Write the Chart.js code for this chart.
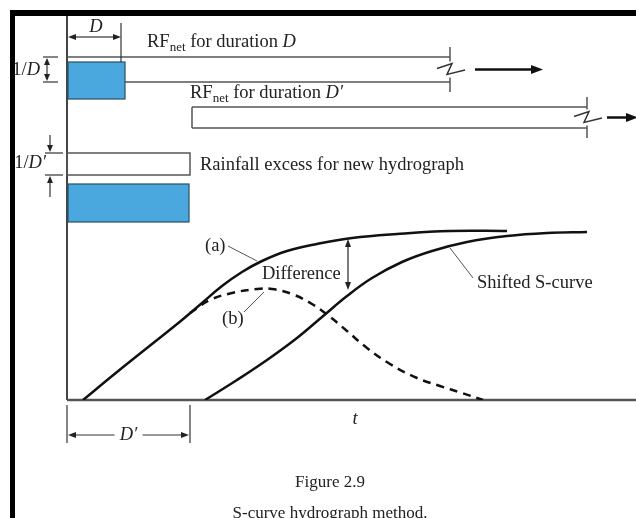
<!DOCTYPE html>
<html>
<head>
<meta charset="utf-8">
<script src="https://cdn.jsdelivr.net/npm/chart.js@4.4.1/dist/chart.umd.min.js"></script>
<style>
  html, body { margin: 0; padding: 0; background: #fff; }
  canvas { display: block; }
</style>
</head>
<body>
<canvas id="grafico" width="636" height="518"></canvas>
<script>
// Curva S (a) (t, Q)
const curvaA_t = [16, 50, 85, 115, 135, 155, 175, 195, 220, 250, 285, 330, 383, 440];
const curvaA_q = [0, 28, 56, 80, 97, 114, 128, 139, 149, 156, 162, 166, 169, 169];

// Curva S deslocada de D'
const curvaDesl_t = [138, 170, 200, 230, 255, 280, 305, 335, 365, 400, 440, 480, 520];
const curvaDesl_q = [0, 20, 40, 62, 83, 104, 122, 138, 149, 158, 164, 167, 168];

// Diferença (b) - novo hidrograma, tracejado
const curvaB_t = [123, 143, 165, 190, 205, 225, 245, 262, 280, 300, 323, 350, 373, 395, 416];
const curvaB_q = [87, 100, 107, 111, 111, 106, 96, 84, 69, 52, 36, 22, 14, 7, 0];

// Blocos de chuva (azuis): [t0, t1, qBase, qTopo]
const blocosAzuis = [[0, 58, 301, 338], [0, 122, 178, 216]];

// Faixas abertas (RFnet): [t0, t1, qBase, qTopo]
const faixaD = [0, 383, 318, 343];
const faixaD2 = [125, 520, 272, 293];
const faixaNova = [0, 123, 225, 247];

// Durações
const durD = 54;
const durD2 = 123;

function pares(ts, qs) {
    return ts.map((t, i) => ({ x: t, y: qs[i] }));
}

const FONTE = '"Liberation Serif", "Times New Roman", serif';
const TAM = 18.5;

// Desenha seta com ponta cheia em (x2, y2)
function seta(ctx, x1, y1, x2, y2, tam, larg) {
    const ang = Math.atan2(y2 - y1, x2 - x1);
    ctx.beginPath();
    ctx.moveTo(x1, y1);
    ctx.lineTo(x2 - Math.cos(ang) * tam * 0.6, y2 - Math.sin(ang) * tam * 0.6);
    ctx.stroke();
    ctx.beginPath();
    ctx.moveTo(x2, y2);
    ctx.lineTo(x2 - tam * Math.cos(ang) + larg * Math.sin(ang), y2 - tam * Math.sin(ang) - larg * Math.cos(ang));
    ctx.lineTo(x2 - tam * Math.cos(ang) - larg * Math.sin(ang), y2 - tam * Math.sin(ang) + larg * Math.cos(ang));
    ctx.closePath();
    ctx.fill();
}

function linha(ctx, x1, y1, x2, y2) {
    ctx.beginPath();
    ctx.moveTo(x1, y1);
    ctx.lineTo(x2, y2);
    ctx.stroke();
}

// Texto "RF_net for duration D"
function rotuloRF(ctx, x, y, linha2) {
    ctx.textAlign = 'left';
    ctx.textBaseline = 'alphabetic';
    ctx.font = TAM + 'px ' + FONTE;
    ctx.fillText('RF', x, y);
    let px = x + ctx.measureText('RF').width;
    ctx.font = '13px ' + FONTE;
    ctx.fillText('net', px, y + 4);
    px += ctx.measureText('net').width;
    ctx.font = TAM + 'px ' + FONTE;
    ctx.fillText(' for duration ', px, y);
    px += ctx.measureText(' for duration ').width;
    ctx.font = 'italic ' + TAM + 'px ' + FONTE;
    ctx.fillText(linha2 ? 'D\u2032' : 'D', px, y);
}

const desenhoPlugin = {
    id: 'desenho',
    beforeDatasetsDraw(chart) {
        const ctx = chart.ctx;
        const X = v => chart.scales.x.getPixelForValue(v);
        const Y = v => chart.scales.y.getPixelForValue(v);
        const area = chart.chartArea;
        ctx.save();

        // moldura preta externa
        ctx.fillStyle = '#000';
        ctx.fillRect(10, 10, 626, 6);
        ctx.fillRect(10, 10, 5, 508);

        // eixos
        ctx.strokeStyle = '#444';
        ctx.lineWidth = 2;
        linha(ctx, X(0), area.top, X(0), Y(0));
        ctx.lineWidth = 2.5;
        ctx.strokeStyle = '#555';
        linha(ctx, X(0), Y(0), area.right, Y(0));

        // faixas abertas com quebra
        ctx.strokeStyle = '#555';
        ctx.lineWidth = 1.5;
        [[faixaD, 408, 476, false], [faixaD2, 540, 571, true]].forEach(([f, a0, a1, esq]) => {
            const x0 = X(f[0]), x1 = X(f[1]), yb = Y(f[2]), yt = Y(f[3]);
            linha(ctx, x0, yt, x1, yt);
            linha(ctx, x0, yb, x1, yb);
            if (esq) linha(ctx, x0, yt, x0, yb);
            // quebra
            const ym = (yb + yt) / 2;
            linha(ctx, x1, yt - 10, x1, yb + 10);
            ctx.fillStyle = '#fff';
            ctx.fillRect(x1 - 5, ym - 8, 10, 16);
            ctx.strokeStyle = '#333';
            ctx.beginPath();
            ctx.moveTo(x1 - 13, ym - 1);
            ctx.lineTo(x1 + 2, ym - 6);
            ctx.lineTo(x1 - 3, ym + 5);
            ctx.lineTo(x1 + 15, ym + 0.5);
            ctx.stroke();
            // seta de continuação
            ctx.strokeStyle = '#111';
            ctx.fillStyle = '#111';
            ctx.lineWidth = 2.5;
            seta(ctx, X(a0), ym, X(a1), ym, 12, 4.5);
            ctx.strokeStyle = '#555';
            ctx.lineWidth = 1.5;
        });
        // faixa do novo hidrograma
        ctx.strokeRect(X(faixaNova[0]), Y(faixaNova[3]), X(faixaNova[1]) - X(faixaNova[0]), Y(faixaNova[2]) - Y(faixaNova[3]));

        // blocos azuis
        blocosAzuis.forEach(b => {
            const x0 = X(b[0]) + 1, x1 = X(b[1]), yt = Y(b[3]), yb = Y(b[2]);
            ctx.fillStyle = '#4aa8df';
            ctx.fillRect(x0, yt, x1 - x0, yb - yt);
            ctx.strokeStyle = '#2b4f66';
            ctx.lineWidth = 1.2;
            ctx.strokeRect(x0, yt, x1 - x0, yb - yt);
        });
        ctx.restore();
    },
    afterDatasetsDraw(chart) {
        const ctx = chart.ctx;
        const X = v => chart.scales.x.getPixelForValue(v);
        const Y = v => chart.scales.y.getPixelForValue(v);
        ctx.save();
        ctx.fillStyle = '#222';
        ctx.strokeStyle = '#333';
        ctx.lineWidth = 1.2;

        // cota D
        linha(ctx, X(durD), Y(377), X(durD), Y(338));
        seta(ctx, X(durD / 2), Y(363), X(1), Y(363), 8, 3);
        seta(ctx, X(durD / 2), Y(363), X(durD), Y(363), 8, 3);
        ctx.font = 'italic ' + TAM + 'px ' + FONTE;
        ctx.textAlign = 'center';
        ctx.textBaseline = 'alphabetic';
        ctx.fillText('D', X(29), Y(368));

        // cota 1/D
        linha(ctx, X(-24), Y(343), X(-9), Y(343));
        linha(ctx, X(-24), Y(318), X(-9), Y(318));
        seta(ctx, X(-20), Y(330), X(-20), Y(342), 7, 3);
        seta(ctx, X(-20), Y(330), X(-20), Y(319), 7, 3);
        ctx.textAlign = 'right';
        ctx.font = 'italic ' + TAM + 'px ' + FONTE;
        const wD = ctx.measureText('D').width;
        ctx.fillText('D', X(-27), Y(325));
        ctx.font = TAM + 'px ' + FONTE;
        ctx.fillText('1/', X(-27) - wD, Y(325));

        // cota 1/D'
        linha(ctx, X(-22), Y(247), X(-4), Y(247));
        linha(ctx, X(-22), Y(225), X(-4), Y(225));
        seta(ctx, X(-17), Y(265), X(-17), Y(248), 7, 3);
        seta(ctx, X(-17), Y(203), X(-17), Y(224), 7, 3);
        ctx.font = 'italic ' + TAM + 'px ' + FONTE;
        const wD2 = ctx.measureText('D\u2032').width;
        ctx.fillText('D\u2032', X(-21), Y(232));
        ctx.font = TAM + 'px ' + FONTE;
        ctx.fillText('1/', X(-21) - wD2, Y(232));

        // rótulos RF
        ctx.fillStyle = '#222';
        rotuloRF(ctx, X(80), Y(353), false);
        rotuloRF(ctx, X(123), Y(302), true);
        ctx.font = TAM + 'px ' + FONTE;
        ctx.textAlign = 'left';
        ctx.fillText('Rainfall excess for new hydrograph', X(133), Y(230));

        // rótulos das curvas e linhas de chamada
        ctx.strokeStyle = '#555';
        ctx.lineWidth = 1;
        linha(ctx, X(161), Y(154), X(190), Y(139));
        linha(ctx, X(177), Y(88), X(197), Y(108));
        linha(ctx, X(383), Y(152), X(406), Y(122));
        ctx.fillText('(a)', X(138), Y(149));
        ctx.fillText('Difference', X(195), Y(121));
        ctx.fillText('(b)', X(155), Y(76));
        ctx.fillText('Shifted S-curve', X(410), Y(112));

        // seta da diferença
        ctx.strokeStyle = '#222';
        ctx.fillStyle = '#222';
        ctx.lineWidth = 1.2;
        seta(ctx, X(281), Y(136), X(281), Y(161), 8, 3);
        seta(ctx, X(281), Y(136), X(281), Y(110), 8, 3);

        // eixo t
        ctx.font = 'italic ' + TAM + 'px ' + FONTE;
        ctx.textAlign = 'center';
        ctx.fillText('t', X(288), Y(-24));

        // cota D'
        ctx.strokeStyle = '#333';
        linha(ctx, X(0), Y(-5), X(0), Y(-43));
        linha(ctx, X(durD2), Y(-5), X(durD2), Y(-43));
        seta(ctx, X(durD2 / 2 - 14), Y(-35), X(1), Y(-35), 8, 3);
        seta(ctx, X(durD2 / 2 + 14), Y(-35), X(durD2 - 1), Y(-35), 8, 3);
        ctx.textBaseline = 'middle';
        ctx.fillText('D\u2032', X(durD2 / 2), Y(-35));

        // legenda da figura
        ctx.textBaseline = 'alphabetic';
        ctx.font = '17px ' + FONTE;
        ctx.fillStyle = '#222';
        ctx.fillText('Figure 2.9', 330, 487);
        ctx.font = '17px ' + FONTE;
        ctx.fillText('S-curve hydrograph method.', 330, 518);
        ctx.restore();
    }
};

const estiloCurva = {
    showLine: true,
    borderColor: '#111',
    borderWidth: 2.5,
    pointRadius: 0,
    tension: 0.4
};

new Chart(document.getElementById('grafico'), {
    type: 'scatter',
    data: {
        datasets: [
            Object.assign({ label: 'S-curve (a)', data: pares(curvaA_t, curvaA_q) }, estiloCurva),
            Object.assign({ label: 'Shifted S-curve', data: pares(curvaDesl_t, curvaDesl_q) }, estiloCurva),
            Object.assign({ label: 'Difference (b)', data: pares(curvaB_t, curvaB_q), borderDash: [8, 6] }, estiloCurva)
        ]
    },
    options: {
        responsive: false,
        animation: false,
        layout: { padding: { left: 67, top: 16, right: 0, bottom: 118 } },
        scales: {
            x: { type: 'linear', min: 0, max: 569, display: false },
            y: { type: 'linear', min: 0, max: 384, display: false }
        },
        plugins: {
            legend: { display: false },
            tooltip: { enabled: false }
        }
    },
    plugins: [desenhoPlugin]
});
</script>
</body>
</html>
